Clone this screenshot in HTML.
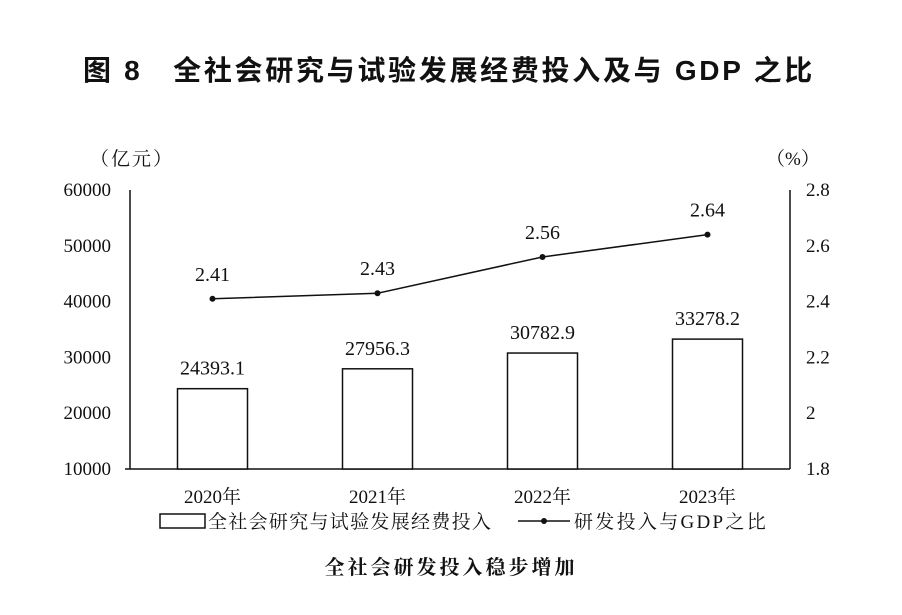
<!DOCTYPE html>
<html><head><meta charset="utf-8">
<style>
html,body{margin:0;padding:0;background:#fff;}
svg text{font-family:"Liberation Serif","Noto Serif CJK SC",serif;fill:#111;}
</style></head>
<body>
<svg width="902" height="610" viewBox="0 0 902 610" xmlns="http://www.w3.org/2000/svg">
<text x="83" y="80" style="font-family:'Liberation Sans','Noto Sans CJK SC',sans-serif;font-weight:bold;font-size:28px;letter-spacing:2.7px">图 8　全社会研究与试验发展经费投入及与 GDP 之比</text>
<text x="90" y="165" font-size="19" style="letter-spacing:2px">（亿元）</text>
<text x="766" y="165" font-size="19">（%）</text>
<g id="axes"></g>
<g id="marks"></g>
<g>
<rect x="160" y="514" width="45" height="14" fill="#fff" stroke="#111" stroke-width="1.5"/>
<text x="208" y="528" font-size="19" style="letter-spacing:1.3px">全社会研究与试验发展经费投入</text>
<line x1="518" y1="521" x2="570" y2="521" stroke="#111" stroke-width="1.5"/>
<circle cx="544" cy="521" r="3" fill="#111"/>
<text x="574" y="528" font-size="19" style="letter-spacing:2.3px">研发投入与GDP之比</text>
</g>
<text x="451" y="574" font-size="20" text-anchor="middle" style="letter-spacing:3px;font-weight:bold">全社会研发投入稳步增加</text>
</svg>
<script>
const categories=["2020年","2021年","2022年","2023年"];
const investment=[24393.1,27956.3,30782.9,33278.2];
const investmentLabels=["24393.1","27956.3","30782.9","33278.2"];
const ratio=[2.41,2.43,2.56,2.64];
const ratioLabels=["2.41","2.43","2.56","2.64"];
const leftTicks=[10000,20000,30000,40000,50000,60000];
const rightTicks=["1.8","2","2.2","2.4","2.6","2.8"];
const NS="http://www.w3.org/2000/svg";
const x0=130,x1=790,yTop=190,yBot=469;
const yL=v=>yBot-(v-10000)/50000*(yBot-yTop);
const yR=v=>yBot-(v-1.8)/1.0*(yBot-yTop);
const band=(x1-x0)/categories.length;
const xC=i=>x0+band*(i+0.5);
function mk(tag,attrs,parent){const e=document.createElementNS(NS,tag);for(const k in attrs)e.setAttribute(k,attrs[k]);parent.appendChild(e);return e;}
const axes=document.getElementById('axes'),marks=document.getElementById('marks');
let e;
e=mk('line',{x1:x0,y1:yTop,x2:x0,y2:yBot,stroke:'#111','stroke-width':1.5},axes);


e=mk('line',{x1:x1,y1:yTop,x2:x1,y2:yBot,stroke:'#111','stroke-width':1.5},axes);


e=mk('line',{x1:x0-5,y1:yBot,x2:x1,y2:yBot,stroke:'#111','stroke-width':1.5},axes);


leftTicks.forEach(v=>{
 const t=mk('text',{x:111,y:yL(v)+6,'font-size':19,'text-anchor':'end'},axes);t.textContent=v;
 
 
});
rightTicks.forEach(s=>{
 const t=mk('text',{x:806,y:yR(parseFloat(s))+6,'font-size':19},axes);t.textContent=s;
 
 
});
categories.forEach((c,i)=>{
 const t=mk('text',{x:xC(i),y:503,'font-size':19,'text-anchor':'middle'},axes);t.textContent=c;
 
 
 const bw=70,y=yL(investment[i]);
 const r=mk('rect',{x:xC(i)-bw/2,y:y,width:bw,height:yBot-y,fill:'#fff',stroke:'#111','stroke-width':1.5},marks);
 
 
 const l=mk('text',{x:xC(i),y:y-14,'font-size':20,'text-anchor':'middle'},marks);l.textContent=investmentLabels[i];
 
 
});
const pts=ratio.map((v,i)=>xC(i)+','+yR(v)).join(' ');
e=mk('polyline',{points:pts,fill:'none',stroke:'#111','stroke-width':1.5},marks);


ratio.forEach((v,i)=>{
 const c=mk('circle',{cx:xC(i),cy:yR(v),r:3,fill:'#111'},marks);
 
 
 const t=mk('text',{x:xC(i),y:yR(v)-18,'font-size':20,'text-anchor':'middle'},marks);t.textContent=ratioLabels[i];
 
 
});
</script>
</body></html>
